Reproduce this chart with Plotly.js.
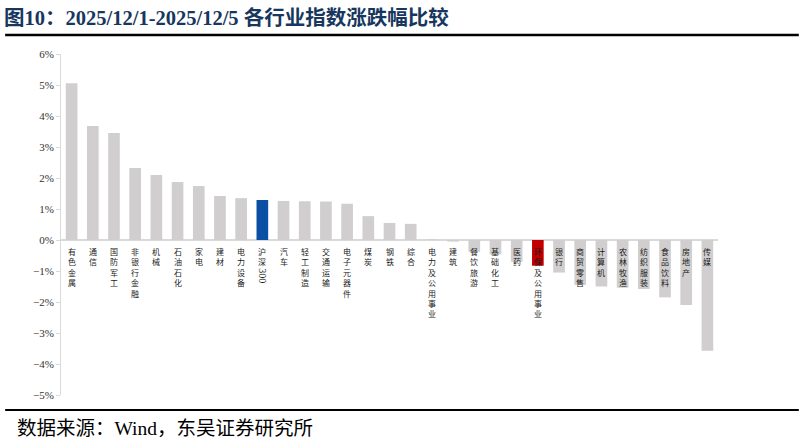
<!DOCTYPE html>
<html>
<head>
<meta charset="utf-8">
<script src="https://cdn.plot.ly/plotly-3.0.1.min.js"></script>
<style>
  html, body { margin: 0; padding: 0; background: #ffffff; }
  #chart { width: 805px; height: 443px; }
</style>
</head>
<body>
<div id="chart"></div>
<script>
// ------------------------------------------------------------------------------
// DATA (weekly change, %)

const industries = [
    '有色金属', '通信', '国防军工', '非银行金融', '机械', '石油石化', '家电', '建材',
    '电力设备', '沪深300', '汽车', '轻工制造', '交通运输', '电子元器件', '煤炭', '钢铁',
    '综合', '电力及公用事业', '建筑', '餐饮旅游', '基础化工', '医药', '环保及公用事业', '银行',
    '商贸零售', '计算机', '农林牧渔', '纺织服装', '食品饮料', '房地产', '传媒'
];

const changes = [
    5.06, 3.68, 3.45, 2.32, 2.10, 1.87, 1.74, 1.42,
    1.35, 1.29, 1.26, 1.25, 1.24, 1.17, 0.77, 0.55,
    0.52, 0.02, -0.05, -0.38, -0.46, -0.70, -0.83, -1.05,
    -1.45, -1.50, -1.54, -1.58, -1.85, -2.10, -3.57
];

const benchmark   = '沪深300';
const highlighted = '环保及公用事业';

// ------------------------------------------------------------------------------
// STYLE

const grey_bar   = '#d0cece';
const blue_bar   = '#0b4fa5';
const red_bar    = '#c00000';
const axis_grey  = '#d9d9d9';
const serif_font = '"Liberation Serif", "Noto Sans CJK SC", serif';
const cjk_font   = '"Noto Sans CJK SC", "Liberation Serif", sans-serif';

const bar_colors = industries.map((name) => {
    if (name === benchmark) return blue_bar;
    if (name === highlighted) return red_bar;
    return grey_bar;
});

// vertical labels, one character per line, hanging under the zero line
function verticalText(name) {
    const m = name.match(/^(.*?)(\d+)$/);
    const chars = m ? m[1].split('') : name.split('');
    return chars.join('<br>');
}

const label_annotations = [];
for (const name of industries) {
    label_annotations.push({
        x: name,
        y: 0,
        xref: 'x',
        yref: 'y',
        text: verticalText(name),
        showarrow: false,
        xanchor: 'center',
        yanchor: 'top',
        yshift: -4,
        align: 'center',
        font: { family: cjk_font, size: 8, color: '#1a1a1a' }
    });
    const digits = name.match(/\d+$/);
    if (digits) {
        label_annotations.push({
            x: name,
            y: 0,
            xref: 'x',
            yref: 'y',
            text: digits[0],
            textangle: 90,
            showarrow: false,
            xanchor: 'center',
            yanchor: 'top',
            yshift: -26,
            font: { family: serif_font, size: 10, color: '#1a1a1a' }
        });
    }
}

const trace = {
    type: 'bar',
    x: industries,
    y: changes,
    width: 0.55,
    marker: { color: bar_colors, line: { width: 0 } },
    hoverinfo: 'x+y',
    showlegend: false
};

const layout = {
    width: 805,
    height: 443,
    paper_bgcolor: '#ffffff',
    plot_bgcolor: '#ffffff',
    margin: { l: 61, r: 87, t: 54, b: 48 },
    bargap: 0.45,
    title: {
        text: '<b>图10：2025/12/1-2025/12/5 各行业指数涨跌幅比较</b>',
        xref: 'container',
        yref: 'container',
        x: 0.005,
        xanchor: 'left',
        y: 0.96,
        yanchor: 'middle',
        font: { family: serif_font, size: 20.5, color: '#17375e' }
    },
    xaxis: {
        type: 'category',
        range: [-0.5, industries.length - 0.5],
        showticklabels: false,
        ticks: '',
        showgrid: false,
        showline: false,
        zeroline: false,
        fixedrange: true
    },
    yaxis: {
        range: [-5, 6],
        dtick: 1,
        ticksuffix: '%',
        ticks: 'outside',
        ticklen: 4,
        tickcolor: axis_grey,
        showline: true,
        linecolor: axis_grey,
        linewidth: 1,
        showgrid: false,
        zeroline: true,
        zerolinecolor: axis_grey,
        zerolinewidth: 1.5,
        tickfont: { family: serif_font, size: 11, color: '#333333' },
        fixedrange: true
    },
    shapes: [
        {
            type: 'line', xref: 'paper', yref: 'paper',
            x0: -0.085, x1: 1.123, y0: 1.056, y1: 1.056,
            line: { color: '#000000', width: 2.5 }
        },
        {
            type: 'line', xref: 'paper', yref: 'paper',
            x0: -0.085, x1: 1.123, y0: -0.044, y1: -0.044,
            line: { color: '#000000', width: 2 }
        }
    ],
    annotations: label_annotations.concat([
        {
            text: '数据来源：Wind，东吴证券研究所',
            xref: 'paper', yref: 'paper',
            x: -0.07, y: -0.097,
            xanchor: 'left', yanchor: 'middle',
            showarrow: false,
            font: { family: serif_font, size: 19.5, color: '#000000' }
        }
    ])
};

Plotly.newPlot('chart', [trace], layout, { displayModeBar: false, staticPlot: true });
</script>
</body>
</html>
